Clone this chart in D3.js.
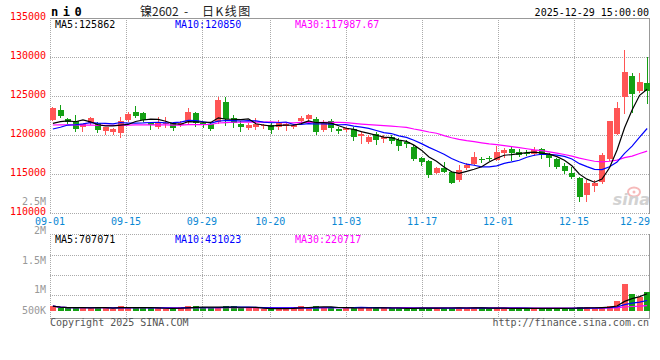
<!DOCTYPE html>
<html>
<head>
<meta charset="utf-8">
<script src="https://cdn.jsdelivr.net/npm/d3@7"></script>
<style>
  body { margin: 0; background: #fff; }
  svg text { font-family: "DejaVu Sans Mono", monospace; font-size: 10px; }
</style>
</head>
<body>
<script>
// trading days shown on the chart
const dates = [
  "09-01","09-02","09-03","09-04","09-05","09-08","09-09","09-10","09-11","09-12",
  "09-15","09-16","09-17","09-18","09-19","09-22","09-23","09-24","09-25","09-26",
  "09-29","09-30","10-09","10-10","10-13","10-14","10-15","10-16","10-17","10-20",
  "10-21","10-22","10-23","10-24","10-27","10-28","10-29","10-30","10-31","11-03",
  "11-04","11-05","11-06","11-07","11-10","11-11","11-12","11-13","11-14","11-17",
  "11-18","11-19","11-20","11-21","11-24","11-25","11-26","11-27","11-28","12-01",
  "12-02","12-03","12-04","12-05","12-08","12-09","12-10","12-11","12-12","12-15",
  "12-16","12-17","12-18","12-19","12-22","12-23","12-24","12-25","12-26","12-29"
];

const opens = [
  121950,123200,122050,121800,120990,121500,121500,120420,120390,120300,
  121920,122990,122860,121580,120940,121320,121500,121280,121670,122780,
  121540,121450,121670,124230,122140,121410,120990,120990,121060,121320,
  121060,121150,121060,121800,122010,122050,120640,121800,120770,120730,
  120730,119780,119140,120170,119490,119780,119360,119140,118500,117090,
  116700,115170,115810,115300,114200,115730,116370,116880,117010,116800,
  117650,118170,117860,117750,117560,118170,117440,116920,116030,115090,
  114530,112220,113500,113920,116890,120130,124910,127600,125640,126700
];
const highs = [
  123600,123880,122180,122520,121410,122310,121700,121030,120860,122350,
  122950,123720,122950,121700,122350,122270,121700,121800,123460,122950,
  121700,121640,124830,124910,122560,121830,121500,122140,121350,121500,
  121920,121700,121450,122470,122690,122270,121920,122010,120990,121050,
  120990,120550,120000,120420,120000,120000,119580,119360,118720,117220,
  116800,115940,116580,115390,116150,116370,117860,117220,117350,118590,
  118300,118500,118170,118100,118500,118300,117650,117000,116450,115940,
  114650,114230,114230,117730,121800,124270,130900,127910,127990,129960
];
const lows = [
  121900,122350,121540,120550,120550,121450,120420,120130,120090,119780,
  121800,122350,121830,120770,120900,121060,120640,121150,121500,121150,
  121060,120640,121500,121280,121060,120550,120730,120770,120900,120300,
  120770,120640,120900,121500,121830,120090,120550,120510,120300,120500,
  119360,118940,118940,118850,119100,119000,118080,118420,116800,116150,
  114650,115100,115200,113810,114080,115600,116300,116580,116750,116760,
  117140,116800,117300,117500,117400,117000,116030,115730,115170,114450,
  111580,111580,112860,113900,116800,120100,122780,122990,125500,124140
];
const closes = [
  123450,122440,121700,120770,121370,122180,120550,120990,120730,121830,
  122650,122470,121920,121320,121630,121500,120860,121580,122950,121500,
  121280,120770,124490,122050,121500,120990,121320,121370,121220,120730,
  121580,121410,121320,122220,122530,120390,121500,120940,120550,120940,
  119650,120090,119780,119360,119780,119270,118590,118940,116920,116580,
  114870,115810,115300,113890,115510,116150,117220,116860,116990,117860,
  118080,117650,117440,117730,118080,117440,117010,115860,115420,114530,
  112090,113810,113890,117440,121800,123420,128120,125260,126830,125680
];
// closes before 09-01, estimated from where the MA lines start
const preCloses = [
  121800,121500,121200,121900,122100,121600,121300,121000,121400,121700,
  122000,121800,121500,121300,121600,121900,121400,121200,121300,121270,
  120250,118800,120400,120300,120440,121400,121250,121250,120150
];
const volumes = [
  200000,110000,110000,150000,110000,150000,150000,110000,75000,200000,
  150000,150000,110000,110000,110000,80000,110000,150000,200000,200000,
  150000,110000,150000,200000,200000,110000,110000,110000,75000,75000,
  110000,110000,150000,200000,150000,200000,150000,130000,90000,130000,
  130000,130000,130000,130000,110000,110000,130000,70000,130000,130000,
  130000,110000,115000,130000,140000,115000,140000,110000,95000,130000,
  100000,110000,110000,105000,110000,110000,110000,115000,110000,115000,
  150000,160000,130000,150000,185000,400000,1100000,690000,560000,785000
];

const tickDates = ["09-01","09-15","09-29","10-20","11-03","11-17","12-01","12-15","12-29"];
const priceTicks = [135000, 130000, 125000, 120000, 115000, 110000];
const volTicks = [2500000, 2000000, 1500000, 1000000, 500000];
const volTickLabels = ["2.5M", "2M", "1.5M", "1M", "500K"];
const priceLegend = ["MA5:125862", "MA10:120850", "MA30:117987.67"];
const volLegend = ["MA5:707071", "MA10:431023", "MA30:220717"];
const titleParts = ["镍2602", "-", "日K线图"];
const maPeriods = [30, 10, 5];

const width = 660;
const height = 360;
const left = 50, right = 650;
const pTop = 18, pBot = 213, vTop = 234, vBot = 318;
const red = "#ff5555", green = "#14a014";
const maColors = {5: "#000000", 10: "#0000ff", 30: "#ff00ff"};
const legendColors = ["#000000", "#0000ff", "#ff00ff"];
const legendX = [55, 175, 295];

const svg = d3.select("body")
  .append("svg")
  .attr("width", width)
  .attr("height", height);

const x = d3.scaleBand().domain(dates).range([left, right]).paddingInner(0.24).paddingOuter(0);
const xg = d3.scalePoint().domain(dates).range([left, right]);
const y = d3.scaleLinear().domain([110000, 135000]).range([pBot, pTop]);
const yv = d3.scaleLinear().domain([0, 3150000]).range([311, vTop]);
const volRow = d3.scaleLinear().domain([0, 4]).range([235, 315]);
const volLabelY = d3.scaleLinear().domain([1000000, 2500000]).range([293, 205]);

const rows = dates.map((d, i) => ({
  date: d, open: opens[i], high: highs[i], low: lows[i], close: closes[i], vol: volumes[i]
}));
const colorOf = (d) => d.close >= d.open ? red : green;
const cx = (d) => Math.floor(x(d) + x.bandwidth() / 2) + 0.5;

// grid
const grid = svg.append("g")
  .attr("stroke", "#aaa")
  .attr("stroke-dasharray", "1,1")
  .attr("shape-rendering", "crispEdges");

[130000, 125000, 120000, 115000].forEach((v) => {
  const yy = Math.round(y(v)) + 0.5;
  grid.append("line").attr("x1", left).attr("x2", right).attr("y1", yy).attr("y2", yy);
});
[1, 2, 3].forEach((k) => {
  const yy = Math.round(volRow(k)) + 0.5;
  grid.append("line").attr("x1", left).attr("x2", right).attr("y1", yy).attr("y2", yy);
});
tickDates.slice(1, -1).forEach((d) => {
  const xx = Math.round(xg(d)) + 0.5;
  grid.append("line").attr("x1", xx).attr("x2", xx).attr("y1", pTop).attr("y2", pBot);
  grid.append("line").attr("x1", xx).attr("x2", xx).attr("y1", vTop).attr("y2", vBot);
});
// dotted frame parts
grid.append("line").attr("x1", left + 0.5).attr("x2", left + 0.5).attr("y1", pTop).attr("y2", pBot);
grid.append("line").attr("x1", left + 0.5).attr("x2", left + 0.5).attr("y1", vTop).attr("y2", vBot);
grid.append("line").attr("x1", left).attr("x2", right).attr("y1", pBot + 0.5).attr("y2", pBot + 0.5);
grid.append("line").attr("x1", left).attr("x2", right).attr("y1", vTop + 0.5).attr("y2", vTop + 0.5);

// solid frame parts
const frame = svg.append("g").attr("stroke", "#999").attr("shape-rendering", "crispEdges");
frame.append("line").attr("x1", left).attr("x2", right).attr("y1", pTop + 0.5).attr("y2", pTop + 0.5);
frame.append("line").attr("x1", right - 0.5).attr("x2", right - 0.5).attr("y1", pTop).attr("y2", pBot + 1);
frame.append("line").attr("x1", right - 0.5).attr("x2", right - 0.5).attr("y1", vTop).attr("y2", vBot + 1);
frame.append("line").attr("x1", left).attr("x2", right).attr("y1", vBot + 0.5).attr("y2", vBot + 0.5);

// watermark
const wm = svg.append("g").attr("opacity", 0.75);
wm.append("ellipse").attr("cx", 634).attr("cy", 192).attr("rx", 6).attr("ry", 4.5)
  .attr("fill", "none").attr("stroke", "#f4a3a3").attr("stroke-width", 2);
wm.append("circle").attr("cx", 634).attr("cy", 192).attr("r", 1.5).attr("fill", "#f4a3a3");
wm.append("text").attr("x", 650).attr("y", 205).attr("text-anchor", "end")
  .style("font-family", "DejaVu Sans").style("font-size", "16px")
  .style("font-style", "italic").style("font-weight", "bold")
  .attr("fill", "#c4c4c4").text("sina");

// candles
const candle = svg.append("g").attr("shape-rendering", "crispEdges")
  .selectAll("g").data(rows).join("g");
candle.append("line")
  .attr("x1", (d) => cx(d.date)).attr("x2", (d) => cx(d.date))
  .attr("y1", (d) => Math.round(y(d.high))).attr("y2", (d) => Math.round(y(d.low)) + 1)
  .attr("stroke", colorOf);
candle.append("rect")
  .attr("x", (d) => Math.round(x(d.date)))
  .attr("width", Math.round(x.bandwidth()))
  .attr("y", (d) => Math.round(y(Math.max(d.open, d.close))))
  .attr("height", (d) => Math.max(1, Math.round(Math.abs(y(d.open) - y(d.close)))))
  .attr("fill", colorOf);

// volume bars
svg.append("g").attr("shape-rendering", "crispEdges")
  .selectAll("rect").data(rows).join("rect")
  .attr("x", (d) => Math.round(x(d.date)))
  .attr("width", Math.round(x.bandwidth()))
  .attr("y", (d) => Math.round(yv(d.vol)))
  .attr("height", (d) => Math.round(yv(0)) - Math.round(yv(d.vol)))
  .attr("fill", colorOf);

// moving averages
const allCloses = preCloses.concat(closes);
const off = preCloses.length;
const priceMA = (n) => closes.map((c, i) => d3.mean(allCloses.slice(i + off - n + 1, i + off + 1)));
const volMA = (n) => volumes.map((v, i) => d3.mean(volumes.slice(Math.max(0, i - n + 1), i + 1)));

const lineX = (d, i) => x(dates[i]) + x.bandwidth() / 2;
maPeriods.forEach((n) => {
  svg.append("path")
    .datum(priceMA(n))
    .attr("fill", "none")
    .attr("stroke", maColors[n])
    .attr("stroke-width", 1.2)
    .attr("d", d3.line().x(lineX).y((v) => y(v)));
  svg.append("path")
    .datum(volMA(n))
    .attr("fill", "none")
    .attr("stroke", maColors[n])
    .attr("stroke-width", 1.2)
    .attr("d", d3.line().x(lineX).y((v) => yv(v)));
});

// price axis labels
svg.append("g").selectAll("text").data(priceTicks).join("text")
  .attr("x", 46).attr("y", (v) => y(v) + 2)
  .attr("text-anchor", "end").attr("fill", "#ff0000")
  .text((v) => v);

// volume axis labels
svg.append("g").selectAll("text").data(volTicks).join("text")
  .attr("x", 46).attr("y", (v) => Math.min(314, volLabelY(v)))
  .attr("text-anchor", "end").attr("fill", "#999")
  .text((v, i) => volTickLabels[i]);

// date labels
svg.append("g").selectAll("text").data(tickDates).join("text")
  .attr("x", (d) => xg(d))
  .attr("y", 225)
  .attr("text-anchor", (d, i) => i === tickDates.length - 1 ? "end" : "middle")
  .attr("fill", "#0a88d4")
  .text((d) => d);

// legends
svg.append("g").selectAll("text").data(priceLegend).join("text")
  .attr("x", (d, i) => legendX[i]).attr("y", 27.5)
  .attr("fill", (d, i) => legendColors[i]).text((d) => d);
svg.append("g").selectAll("text").data(volLegend).join("text")
  .attr("x", (d, i) => legendX[i]).attr("y", 242.5)
  .attr("fill", (d, i) => legendColors[i]).text((d) => d);

// header
svg.append("text").attr("x", 51).attr("y", 16)
  .style("font-size", "12px").style("font-weight", "bold").style("letter-spacing", "4.5px")
  .attr("fill", "#000").text("ni0");
const title = svg.append("text").attr("y", 16)
  .style("font-family", "'Noto Sans CJK SC', sans-serif").style("font-size", "12px")
  .attr("fill", "#222");
title.append("tspan").attr("x", 140).text(titleParts[0]);
title.append("tspan").attr("x", 184).text(titleParts[1]);
title.append("tspan").attr("x", 202).style("letter-spacing", "1.5px").text(titleParts[2]);
svg.append("text").attr("x", 649).attr("y", 16).attr("text-anchor", "end")
  .attr("fill", "#000").text("2025-12-29 15:00:00");

// footer
svg.append("text").attr("x", 50).attr("y", 326).attr("fill", "#555").text("Copyright 2025 SINA.COM");
svg.append("text").attr("x", 649).attr("y", 326).attr("text-anchor", "end")
  .attr("fill", "#555").text("http://finance.sina.com.cn");
</script>
</body>
</html>
